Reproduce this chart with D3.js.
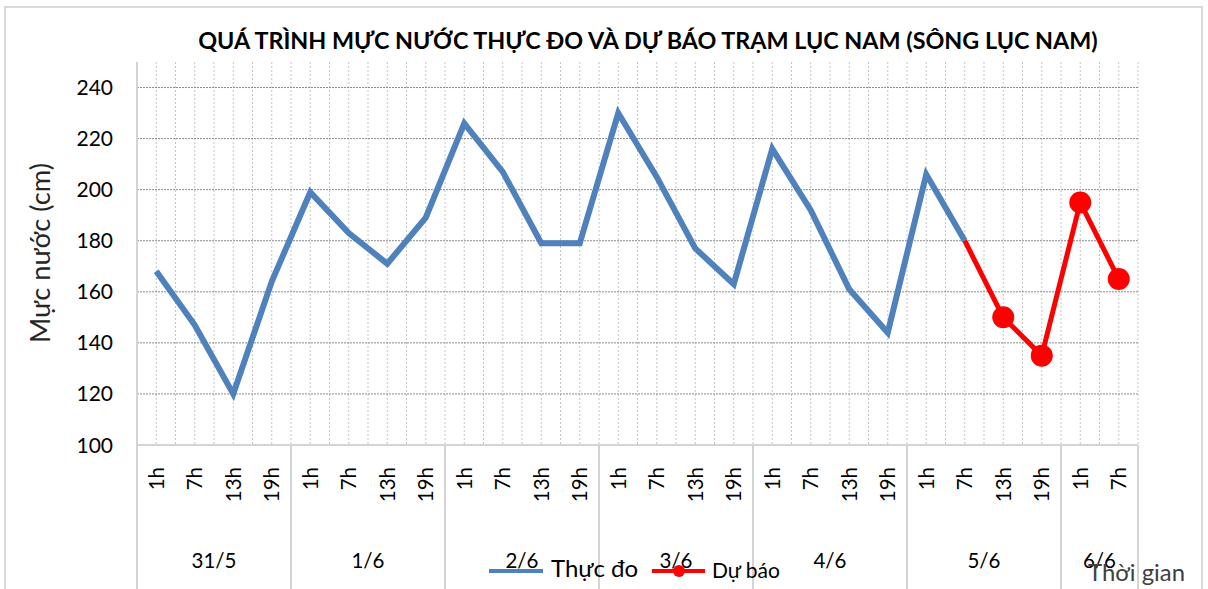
<!DOCTYPE html>
<html>
<head>
<meta charset="utf-8">
<script src="https://cdn.jsdelivr.net/npm/d3@7"></script>
<style>
  body { margin: 0; background: #fff; }
  text { font-family: Lato, "Open Sans", sans-serif; }
</style>
</head>
<body>
<div id="chart"></div>
<script>
const days = ['31/5', '1/6', '2/6', '3/6', '4/6', '5/6', '6/6'];
const hourLabels = [
  '1h', '7h', '13h', '19h', '1h', '7h', '13h', '19h', '1h', '7h', '13h', '19h',
  '1h', '7h', '13h', '19h', '1h', '7h', '13h', '19h', '1h', '7h', '13h', '19h',
  '1h', '7h',
];
const dayOfHour = [
  0, 0, 0, 0, 1, 1, 1, 1, 2, 2, 2, 2, 3, 3, 3, 3, 4, 4, 4, 4, 5, 5, 5, 5, 6, 6,
];
const measured = [168, 147, 120, 164, 199, 183, 171, 189, 226, 207, 179, 179,
  230, 205, 177, 163, 216, 192, 161, 144, 206, 180];
const forecastStart = 21;
const forecast = [180, 150, 135, 195, 165];
const yTicks = [100, 120, 140, 160, 180, 200, 220, 240];

const width = 1208;
const height = 589;
const plotLeft = 137;
const plotRight = 1138;
const plotTop = 62;
const plotBottom = 445;

// shrink/grow a text's font so it spans the given width
function fitWidth(sel, w) {
  const size = +sel.attr('font-size');
  const len = sel.node().getComputedTextLength();
  if (len > 0) sel.attr('font-size', (size * w) / len);
}

const svg = d3.select('#chart').append('svg')
  .attr('width', width)
  .attr('height', height);

// outer frame
svg.append('rect')
  .attr('x', 5).attr('y', 7)
  .attr('width', 1197).attr('height', 600)
  .attr('fill', 'none')
  .attr('stroke', '#d9d9d9')
  .attr('stroke-width', 2);

const x = d3.scaleBand()
  .domain(d3.range(hourLabels.length))
  .range([plotLeft, plotRight]);
const bw = x.bandwidth();
const y = d3.scaleLinear().domain([100, 250]).range([plotBottom, plotTop]);

// vertical grid at category centers and boundaries
const vgrid = [];
hourLabels.forEach((d, i) => { vgrid.push(x(i) + bw / 2); vgrid.push(x(i) + bw); });
svg.append('g').selectAll('line')
  .data(vgrid)
  .enter().append('line')
  .attr('x1', (d) => d).attr('x2', (d) => d)
  .attr('y1', plotTop).attr('y2', plotBottom)
  .attr('stroke', '#c4c4c4')
  .attr('stroke-dasharray', '2,2')
  .attr('stroke-width', 1);

// horizontal grid
svg.append('g').selectAll('line')
  .data(yTicks.slice(1))
  .enter().append('line')
  .attr('x1', plotLeft).attr('x2', plotRight)
  .attr('y1', (d) => y(d)).attr('y2', (d) => y(d))
  .attr('stroke', '#8a8a8a')
  .attr('stroke-dasharray', '2,1')
  .attr('stroke-width', 1);

// axes
svg.append('line')
  .attr('x1', plotLeft).attr('x2', plotLeft)
  .attr('y1', plotTop).attr('y2', plotBottom)
  .attr('stroke', '#d4d4d4').attr('stroke-width', 2);
svg.append('line')
  .attr('x1', plotLeft).attr('x2', plotRight)
  .attr('y1', plotBottom).attr('y2', plotBottom)
  .attr('stroke', '#d4d4d4').attr('stroke-width', 2);

// day separators below axis
const dayBounds = [plotLeft];
days.forEach((d, k) => {
  const idx = dayOfHour.lastIndexOf(k);
  dayBounds.push(x(idx) + bw);
});
svg.append('g').selectAll('line')
  .data(dayBounds)
  .enter().append('line')
  .attr('x1', (d) => d).attr('x2', (d) => d)
  .attr('y1', plotBottom).attr('y2', height)
  .attr('stroke', '#d4d4d4').attr('stroke-width', 2);

// y tick labels
svg.append('g').selectAll('text')
  .data(yTicks)
  .enter().append('text')
  .attr('x', 113)
  .attr('y', (d) => y(d))
  .attr('dy', '0.36em')
  .attr('text-anchor', 'end')
  .attr('font-size', 21)
  .attr('fill', '#000')
  .text((d) => d);

// hour labels, rotated
svg.append('g').selectAll('text')
  .data(hourLabels)
  .enter().append('text')
  .attr('transform', (d, i) => `translate(${x(i) + bw / 2},467) rotate(-90)`)
  .attr('dy', '0.36em')
  .attr('text-anchor', 'end')
  .attr('font-size', 20.5)
  .text((d) => d);

// day labels
svg.append('g').selectAll('text')
  .data(days)
  .enter().append('text')
  .attr('x', (d, k) => (dayBounds[k] + dayBounds[k + 1]) / 2)
  .attr('y', 568)
  .attr('text-anchor', 'middle')
  .attr('font-size', 20.5)
  .text((d) => d);

// title
const title = svg.append('text')
  .attr('x', 648)
  .attr('y', 49)
  .attr('text-anchor', 'middle')
  .attr('font-size', 21)
  .attr('font-weight', 'bold')
  .text('QUÁ TRÌNH MỰC NƯỚC THỰC ĐO VÀ DỰ BÁO TRẠM LỤC NAM (SÔNG LỤC NAM)');
fitWidth(title, 900);

// y axis title
const yTitle = svg.append('text')
  .attr('transform', 'translate(50,253) rotate(-90)')
  .attr('text-anchor', 'middle')
  .attr('font-size', 23)
  .attr('fill', '#262626')
  .text('Mực nước (cm)');
fitWidth(yTitle, 180);

// x axis title
const xTitle = svg.append('text')
  .attr('x', 1088)
  .attr('y', 581)
  .attr('font-size', 22)
  .attr('fill', '#404040')
  .text('Thời gian');
fitWidth(xTitle, 97);

const line = d3.line()
  .x((d) => x(d.i) + bw / 2)
  .y((d) => y(d.v));

const measuredPts = measured.map((v, i) => ({ i, v }));
const forecastPts = forecast.map((v, k) => ({ i: forecastStart + k, v }));

svg.append('path')
  .datum(measuredPts)
  .attr('d', line)
  .attr('fill', 'none')
  .attr('stroke', '#4f81bd')
  .attr('stroke-width', 6)
  .attr('stroke-linejoin', 'miter')
  .attr('stroke-miterlimit', 3);

svg.append('path')
  .datum(forecastPts)
  .attr('d', line)
  .attr('fill', 'none')
  .attr('stroke', '#ff0000')
  .attr('stroke-width', 5)
  .attr('stroke-linejoin', 'round');

svg.append('g').selectAll('circle')
  .data(forecastPts.slice(1))
  .enter().append('circle')
  .attr('cx', (d) => x(d.i) + bw / 2)
  .attr('cy', (d) => y(d.v))
  .attr('r', 11)
  .attr('fill', '#ff0000');

// legend
const legend = svg.append('g');
legend.append('line')
  .attr('x1', 489).attr('x2', 543)
  .attr('y1', 571).attr('y2', 571)
  .attr('stroke', '#4f81bd').attr('stroke-width', 4);
legend.append('text')
  .attr('x', 551).attr('y', 577)
  .attr('font-size', 24)
  .text('Thực đo');
legend.append('line')
  .attr('x1', 652).attr('x2', 705)
  .attr('y1', 571).attr('y2', 571)
  .attr('stroke', '#ff0000').attr('stroke-width', 4);
legend.append('circle')
  .attr('cx', 679).attr('cy', 571).attr('r', 6)
  .attr('fill', '#ff0000');
const fcText = legend.append('text')
  .attr('x', 712).attr('y', 578)
  .attr('font-size', 20)
  .text('Dự báo');
fitWidth(fcText, 68);
</script>
</body>
</html>
